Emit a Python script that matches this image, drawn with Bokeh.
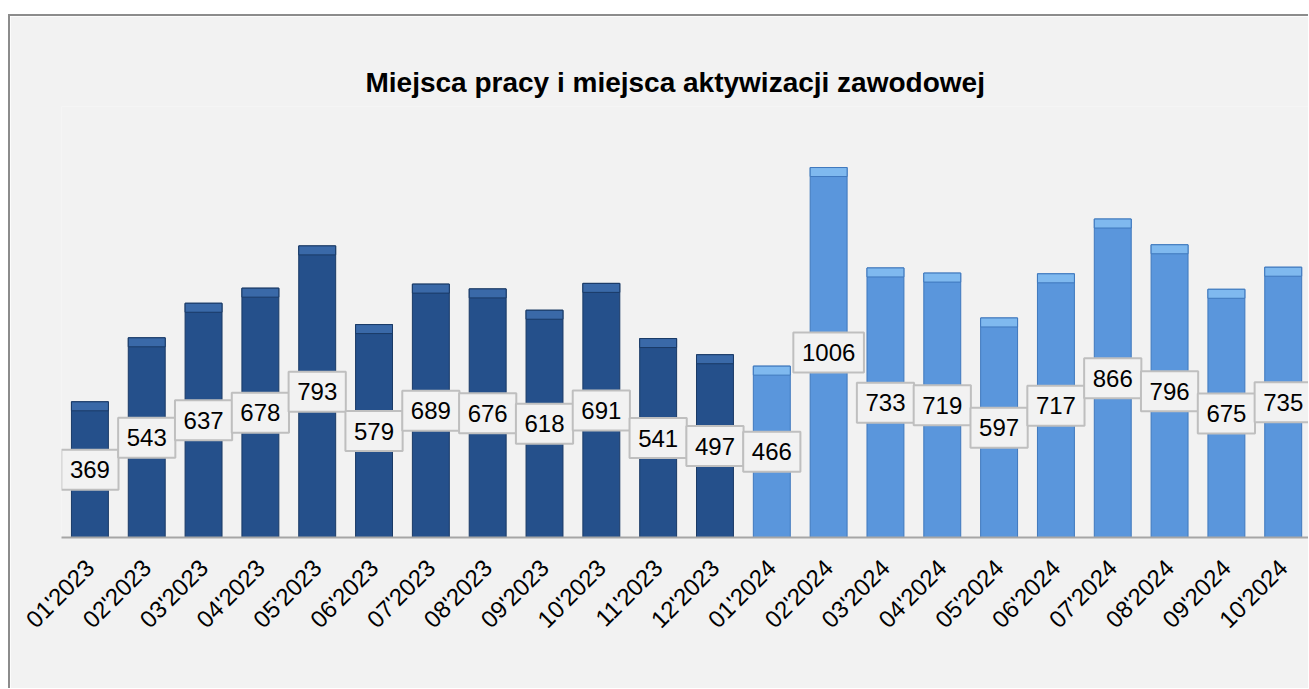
import math
from bokeh.plotting import figure
from bokeh.models import ColumnDataSource, FixedTicker, Range1d
from bokeh.embed import file_html
from bokeh.resources import INLINE
from bokeh.core.properties import value

months = ["01'2023", "02'2023", "03'2023", "04'2023", "05'2023", "06'2023",
          "07'2023", "08'2023", "09'2023", "10'2023", "11'2023", "12'2023",
          "01'2024", "02'2024", "03'2024", "04'2024", "05'2024", "06'2024",
          "07'2024", "08'2024", "09'2024", "10'2024"]
counts = [369, 543, 637, 678, 793, 579, 689, 676, 618, 691, 541, 497,
          466, 1006, 733, 719, 597, 717, 866, 796, 675, 735]
years = ["2023"] * 12 + ["2024"] * 10

title = "Miejsca pracy i miejsca aktywizacji zawodowej"

FONT = "Liberation Sans"
face = {"2023": "#25508b", "2024": "#5a96dc"}
bevel_col = {"2023": "#3a69a8", "2024": "#7fb9ef"}
edge = {"2023": "#1a3a66", "2024": "#3f78bd"}

W, H = 1300, 674
top_border = 90
bottom_border = 153
frame_h = H - top_border - bottom_border
ymax = 1172
px_per_unit = frame_h / ymax
bevel = 9 / px_per_unit

xs = list(range(len(months)))
src = ColumnDataSource(dict(
    x=xs,
    top=counts,
    half=[c / 2 for c in counts],
    btop=counts,
    bbot=[c - bevel for c in counts],
    fill=[face[y] for y in years],
    bfill=[bevel_col[y] for y in years],
    edge=[edge[y] for y in years],
    txt=[str(c) for c in counts],
    boxw=[13.4 * len(str(c)) + 17 for c in counts],
))

p = figure(width=W, height=H, output_backend="svg", toolbar_location=None,
           x_range=Range1d(-0.5, 21.48), y_range=Range1d(0, ymax),
           y_axis_location=None, title=title,
           margin=(14, 0, 0, 8),
           styles={"border-left": "2px solid #8c8c8c", "border-top": "2px solid #8c8c8c"},
           min_border_left=51, min_border_right=0,
           min_border_top=top_border, min_border_bottom=bottom_border)

p.background_fill_color = "#f2f2f2"
p.border_fill_color = "#f2f2f2"
p.outline_line_color = None
p.grid.visible = False

p.title.text_font = FONT
p.title.text_font_size = "28px"
p.title.text_font_style = "bold"
p.title.text_color = "#000000"
p.title.align = "left"
p.title.offset = 304
p.title.standoff = 17

p.vbar(x="x", top="top", bottom=0, width=0.65, source=src,
       fill_color="fill", line_color="edge", line_width=1)
p.vbar(x="x", top="btop", bottom="bbot", width=0.65, source=src,
       fill_color="bfill", line_color="edge", line_width=1)

p.rect(x="x", y="half", width="boxw", height=40, width_units="screen",
       height_units="screen", source=src, fill_color="#f2f2f2",
       line_color="#bfbfbf", line_width=2)
p.text(x="x", y="half", text="txt", source=src, text_align="center",
       text_baseline="middle", text_font=value(FONT), text_font_size="24px",
       text_color="#000000")

ax = p.xaxis[0]
ax.ticker = FixedTicker(ticks=xs)
ax.major_label_overrides = {i: m for i, m in enumerate(months)}
ax.major_label_orientation = math.pi / 4
ax.major_label_text_font = FONT
ax.major_label_text_font_size = "24px"
ax.major_label_text_color = "#000000"
ax.major_label_standoff = 20
ax.axis_line_color = "#a6a6a6"
ax.axis_line_width = 2
ax.major_tick_line_color = None
ax.minor_tick_line_color = None

open("out.html", "w").write(file_html(p, INLINE))
